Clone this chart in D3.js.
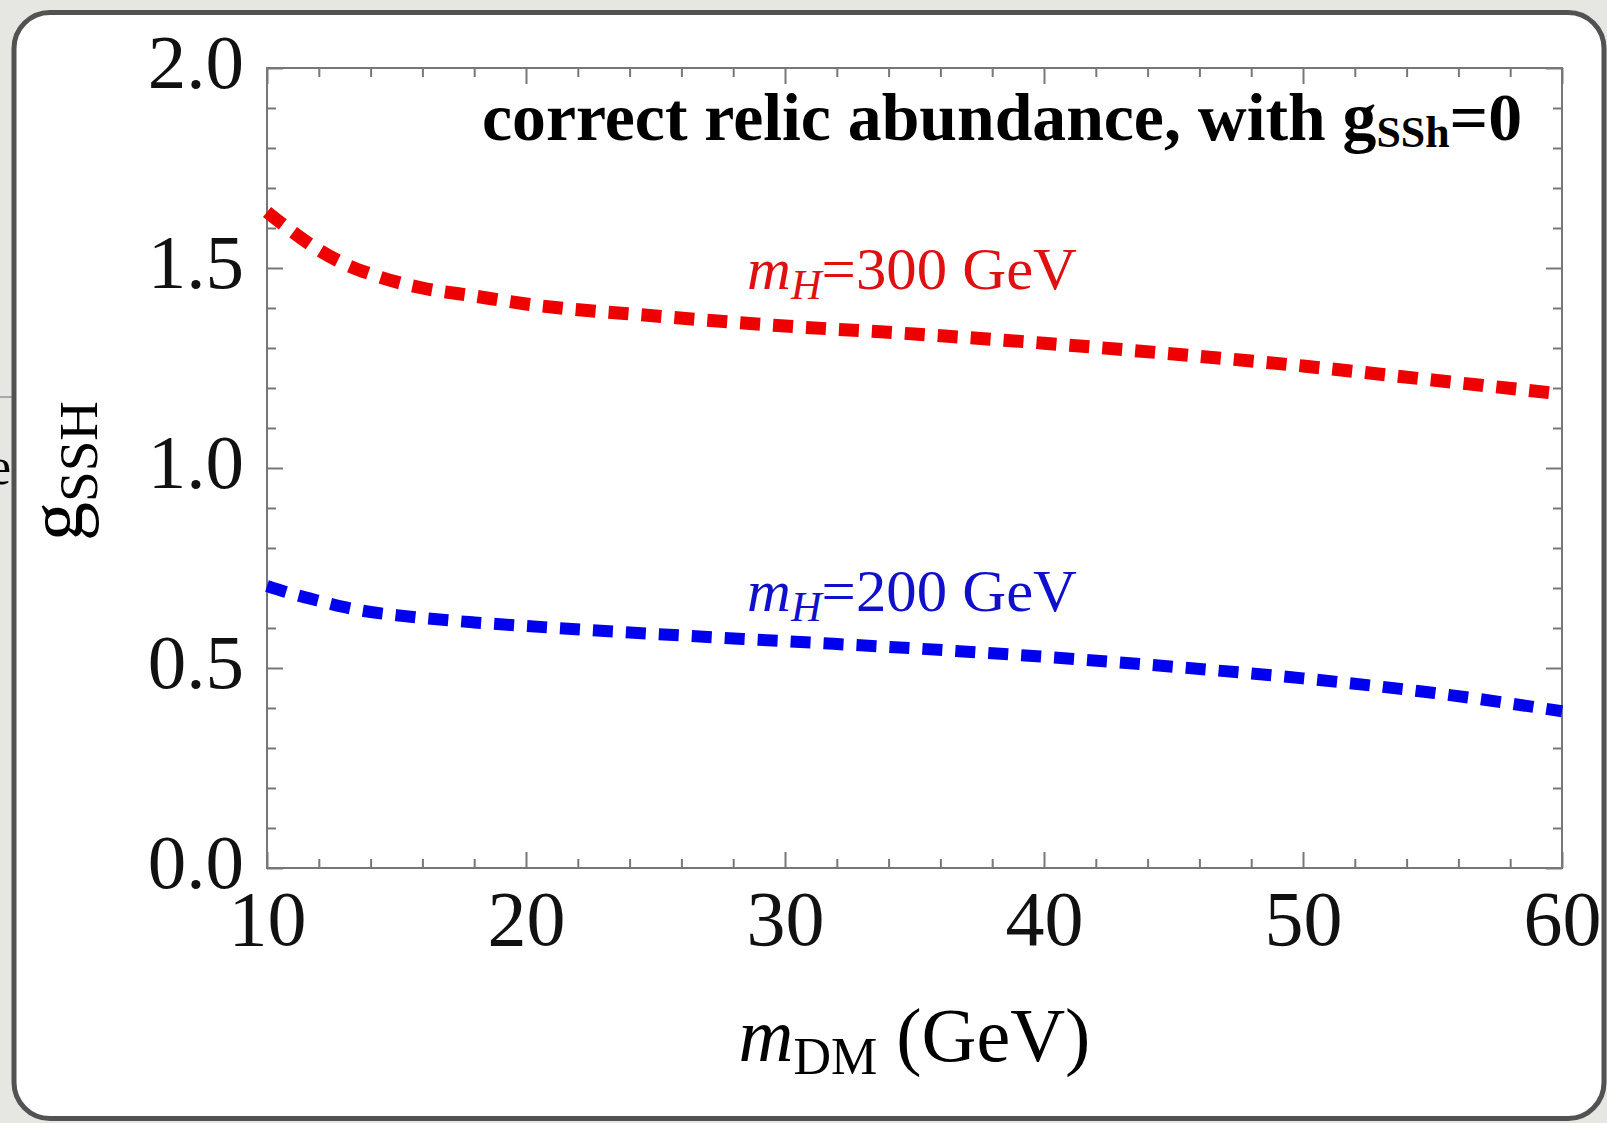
<!DOCTYPE html>
<html>
<head>
<meta charset="utf-8">
<script src="https://cdn.jsdelivr.net/npm/d3@7"></script>
<style>
  body { margin: 0; background: #e6e6e2; }
  svg { display: block; }
  .tick text { font-family: "Liberation Serif", serif; fill: #111; }
  .tick line { stroke: #777; stroke-width: 2; }
</style>
</head>
<body>
<svg id="chart" width="1607" height="1123"></svg>
<script>
var mDM = [10, 11, 12, 13, 14, 15, 16, 18, 20, 25, 30, 35, 40, 45, 50, 55, 60];
// g_SSH for m_H = 300 GeV (red)
var gRed = [1.64, 1.59, 1.545, 1.51, 1.485, 1.465, 1.45, 1.43, 1.41, 1.38, 1.355, 1.335, 1.312, 1.285, 1.255, 1.22, 1.185];
// g_SSH for m_H = 200 GeV (blue)
var gBlue = [0.705, 0.685, 0.668, 0.652, 0.64, 0.632, 0.625, 0.614, 0.605, 0.585, 0.567, 0.549, 0.528, 0.503, 0.474, 0.438, 0.392];

var xTicks = [10, 20, 30, 40, 50, 60];
var yTicks = [0, 0.5, 1.0, 1.5, 2.0];
var yTickLabels = ["0.0", "0.5", "1.0", "1.5", "2.0"];

var svg = d3.select("#chart");

// slide panel behind the plot
svg.append("line")
  .attr("x1", 0).attr("x2", 14).attr("y1", 397).attr("y2", 397)
  .attr("stroke", "#a8a8a8").attr("stroke-width", 2);
svg.append("text")
  .attr("x", -12).attr("y", 484)
  .style("font-family", "Liberation Serif, serif")
  .style("font-size", "52px")
  .text("e");
svg.append("rect")
  .attr("x", 14).attr("y", 12.5)
  .attr("width", 1590).attr("height", 1106)
  .attr("rx", 36).attr("ry", 36)
  .attr("fill", "#fff")
  .attr("stroke", "#525252")
  .attr("stroke-width", 5);

var margin = {top: 68, right: 45, bottom: 255, left: 267};
var width = 1607 - margin.left - margin.right,
    height = 1123 - margin.top - margin.bottom;

var x = d3.scaleLinear().domain([10, 60]).range([0, width]);
var y = d3.scaleLinear().domain([0, 2]).range([height, 0]);

var g = svg.append("g").attr("transform", "translate(" + margin.left + "," + margin.top + ")");

var xMinor = d3.range(10, 60.001, 2).filter(function(d) { return d % 10 != 0; });
var yMinor = d3.range(0, 20.001, 1).filter(function(d) { return d % 5 != 0; }).map(function(d) { return d / 10; });

// bottom axis with labels
g.append("g")
  .attr("class", "axis axis--x")
  .attr("transform", "translate(0," + height + ")")
  .call(d3.axisBottom(x).tickValues(xTicks).tickSize(-16).tickPadding(22).tickFormat(d3.format("d")))
  .call(function(a) { a.select(".domain").remove(); })
  .selectAll("text").style("font-size", "78px");
g.append("g")
  .attr("transform", "translate(0," + height + ")")
  .call(d3.axisBottom(x).tickValues(xMinor).tickSize(-9).tickFormat(""))
  .call(function(a) { a.select(".domain").remove(); });

// left axis with labels
g.append("g")
  .attr("class", "axis axis--y")
  .call(d3.axisLeft(y).tickValues(yTicks).tickSize(-16).tickPadding(23)
    .tickFormat(function(d, i) { return yTickLabels[i]; }))
  .call(function(a) { a.select(".domain").remove(); })
  .selectAll("text").style("font-size", "77px").attr("dy", "0.25em");
g.append("g")
  .call(d3.axisLeft(y).tickValues(yMinor).tickSize(-9).tickFormat(""))
  .call(function(a) { a.select(".domain").remove(); });

// top and right frame ticks
g.append("g")
  .call(d3.axisTop(x).tickValues(xTicks).tickSize(-16).tickFormat(""))
  .call(function(a) { a.select(".domain").remove(); });
g.append("g")
  .call(d3.axisTop(x).tickValues(xMinor).tickSize(-9).tickFormat(""))
  .call(function(a) { a.select(".domain").remove(); });
g.append("g")
  .attr("transform", "translate(" + width + ",0)")
  .call(d3.axisRight(y).tickValues(yTicks).tickSize(-16).tickFormat(""))
  .call(function(a) { a.select(".domain").remove(); });
g.append("g")
  .attr("transform", "translate(" + width + ",0)")
  .call(d3.axisRight(y).tickValues(yMinor).tickSize(-9).tickFormat(""))
  .call(function(a) { a.select(".domain").remove(); });

g.append("rect")
  .attr("width", width).attr("height", height)
  .attr("fill", "none").attr("stroke", "#777").attr("stroke-width", 2);

var line = d3.line()
  .x(function(d) { return x(d[0]); })
  .y(function(d) { return y(d[1]); })
  .curve(d3.curveMonotoneX);

var series = [
  {name: "300", color: "#ee0000", w: 13, values: d3.zip(mDM, gRed)},
  {name: "200", color: "#0000ee", w: 12, values: d3.zip(mDM, gBlue)}
];

g.selectAll(".serie")
  .data(series)
  .enter().append("path")
    .attr("class", "serie")
    .attr("d", function(d) { return line(d.values); })
    .attr("fill", "none")
    .attr("stroke", function(d) { return d.color; })
    .attr("stroke-width", function(d) { return d.w; })
    .attr("stroke-dasharray", "20,13");

// curve labels
function curveLabel(px, py, color, mass) {
  var t = svg.append("text")
    .attr("x", px).attr("y", py)
    .attr("fill", color)
    .attr("textLength", 330)
    .attr("lengthAdjust", "spacingAndGlyphs")
    .style("font-family", "Liberation Serif, serif")
    .style("font-size", "60px");
  t.append("tspan").style("font-style", "italic").text("m");
  t.append("tspan").style("font-style", "italic").style("font-size", "42px").attr("dy", 10).text("H");
  t.append("tspan").attr("dy", -10).text("=" + mass + " GeV");
}
curveLabel(747, 289, "#e01010", "300");
curveLabel(747, 611, "#1010cc", "200");

// title inside the frame
var title = svg.append("text")
  .attr("x", 482).attr("y", 140)
  .attr("textLength", 1040)
  .attr("lengthAdjust", "spacingAndGlyphs")
  .style("font-family", "Liberation Serif, serif")
  .style("font-weight", "bold")
  .style("font-size", "68px");
title.append("tspan").text("correct relic abundance, with g");
title.append("tspan").style("font-size", "44px").attr("dy", 7).text("SSh");
title.append("tspan").attr("dy", -7).text("=0");

// x axis title
var xt = svg.append("text")
  .attr("x", margin.left + width / 2).attr("y", 1061)
  .attr("text-anchor", "middle")
  .style("font-family", "Liberation Serif, serif")
  .style("font-size", "76px");
xt.append("tspan").style("font-style", "italic").text("m");
xt.append("tspan").style("font-size", "52px").attr("dy", 13).text("DM");
xt.append("tspan").attr("dy", -13).text(" (GeV)");

// y axis title
var yt = svg.append("text")
  .attr("transform", "translate(82," + (margin.top + height / 2 + 3) + ") rotate(-90)")
  .attr("text-anchor", "middle")
  .style("font-family", "Liberation Serif, serif")
  .style("font-size", "78px");
yt.append("tspan").text("g");
yt.append("tspan").style("font-size", "55px").attr("dy", 15).text("SSH");
</script>
</body>
</html>
